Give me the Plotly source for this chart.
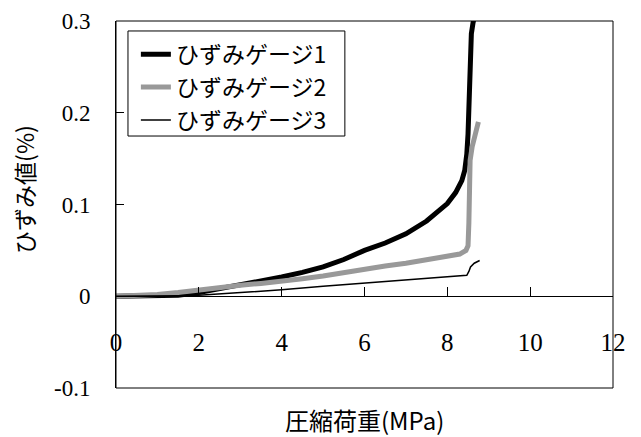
import plotly.graph_objects as go

# ---- data ----
load_1 = [0, 0.5, 1.0, 1.5, 2.0, 2.5, 3.0, 3.5, 4.0, 4.5, 5.0, 5.5, 6.0, 6.5, 7.0, 7.5, 8.0,
          8.2, 8.35, 8.42, 8.47, 8.50, 8.52, 8.54, 8.56, 8.58, 8.62, 8.68]
strain_1 = [0, 0, 0.0005, 0.001, 0.004, 0.008, 0.013, 0.017, 0.021, 0.026, 0.032, 0.040, 0.050,
            0.058, 0.068, 0.082, 0.101, 0.113, 0.126, 0.137, 0.155, 0.177, 0.220, 0.254, 0.272,
            0.286, 0.298, 0.310]

load_2 = [0, 0.5, 1.0, 1.5, 2.0, 2.5, 3.0, 3.5, 4.0, 4.5, 5.0, 5.5, 6.0, 6.5, 7.0, 7.5, 8.0,
          8.3, 8.45, 8.50, 8.52, 8.53, 8.54, 8.55, 8.60, 8.68, 8.75]
strain_2 = [0, 0.0005, 0.002, 0.004, 0.007, 0.010, 0.012, 0.014, 0.016, 0.019, 0.022, 0.026,
            0.030, 0.033, 0.036, 0.040, 0.043, 0.046, 0.050, 0.055, 0.080, 0.110, 0.130, 0.148,
            0.163, 0.177, 0.190]

load_3 = [0, 1.0, 1.5, 2.0, 3.0, 4.0, 5.0, 6.0, 7.0, 8.0, 8.47, 8.52, 8.56, 8.65, 8.78]
strain_3 = [0, 0, 0.0005, 0.001, 0.004, 0.007, 0.011, 0.0145, 0.018, 0.021, 0.0228, 0.027,
            0.032, 0.036, 0.039]

series_names = ["ひずみゲージ1", "ひずみゲージ2", "ひずみゲージ3"]
x_ticks = [0, 2, 4, 6, 8, 10, 12]
y_ticks = [-0.1, 0, 0.1, 0.2, 0.3]
y_tick_labels = ["-0.1", "0", "0.1", "0.2", "0.3"]

JP = "Noto Sans CJK JP"
SERIF = "Liberation Serif, Times New Roman, serif"

fig = go.Figure()
styles = [dict(color="black", width=5), dict(color="#999999", width=5), dict(color="black", width=1.5)]
for i, (xs, ys) in enumerate([(load_1, strain_1), (load_2, strain_2), (load_3, strain_3)]):
    fig.add_trace(go.Scatter(x=xs, y=ys, mode="lines", name=series_names[i],
                             legendgroup=f"g{i}", line=styles[i]))

fig.update_layout(
    width=641, height=437,
    margin=dict(l=116, r=28, t=21, b=49, autoexpand=False),
    plot_bgcolor="white", paper_bgcolor="white",
    showlegend=True,
    legend=dict(x=0.04, y=0.968, xanchor="left", yanchor="top",
                bgcolor="rgba(0,0,0,0)", borderwidth=0,
                font=dict(family=JP, size=23, color="black"),
                traceorder="grouped", tracegroupgap=0),
    xaxis=dict(range=[0, 12], tickvals=x_ticks, ticks="inside", ticklen=9, tickcolor="black",
               showgrid=False, zeroline=False, showline=True, linecolor="black", linewidth=1,
               anchor="free", position=0.25, ticklabelstandoff=24, automargin=False,
               tickfont=dict(family=SERIF, size=25, color="black")),
    yaxis=dict(range=[-0.1, 0.3], tickvals=y_ticks, ticktext=y_tick_labels,
               ticks="inside", ticklen=8, tickcolor="black",
               showgrid=False, zeroline=False, showline=True, linecolor="black", linewidth=1,
               ticklabelstandoff=20, automargin=False,
               tickfont=dict(family=SERIF, size=23, color="black")),
)

# axis titles
fig.add_annotation(text="圧縮荷重(MPa)", xref="paper", yref="paper", x=0.5, y=-0.085,
                   xanchor="center", yanchor="middle", showarrow=False,
                   font=dict(family=JP, size=24, color="black"))
fig.add_annotation(text="ひずみ値(%)", xref="paper", yref="paper", x=-0.185, y=0.54,
                   xanchor="center", yanchor="middle", showarrow=False, textangle=-90,
                   font=dict(family=JP, size=23, color="black"))

# legend frame
fig.add_shape(type="rect", xref="paper", yref="paper", x0=0.0241, y0=0.6866, x1=0.4605, y1=0.9728,
              line=dict(color="black", width=1), fillcolor="white", layer="above")
# plot frame
fig.add_shape(type="rect", xref="paper", yref="paper", x0=0, y0=0, x1=1, y1=1,
              line=dict(color="black", width=1), fillcolor="rgba(0,0,0,0)", layer="above")

fig.write_html("out.html", config={"displayModeBar": False},
               post_script="document.body.style.margin='0';document.body.style.padding='0';")
